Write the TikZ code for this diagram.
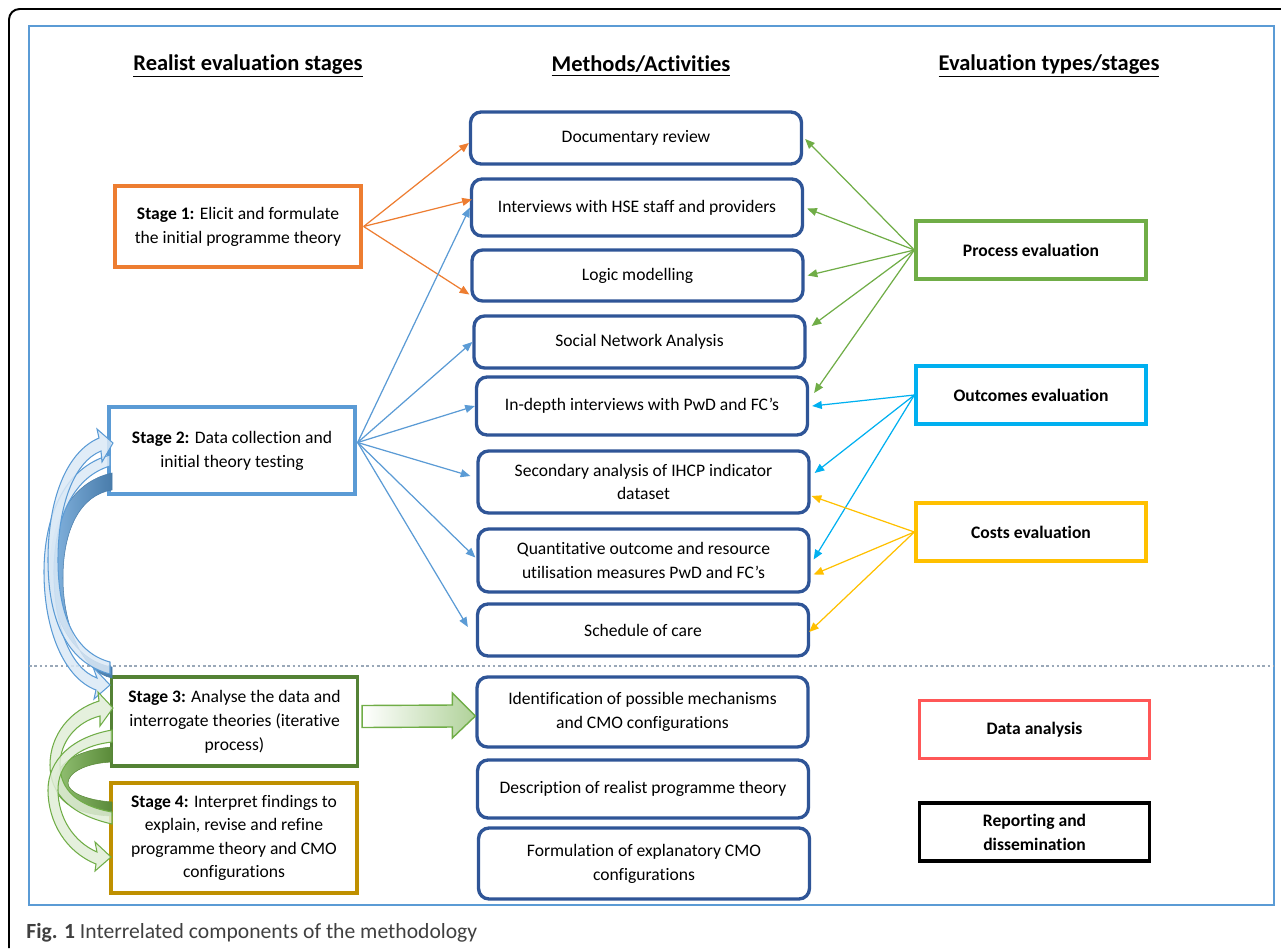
\documentclass[tikz,border=0pt]{standalone}
\usepackage{fontspec}
\setmainfont{Carlito}[Ligatures=NoCommon]
\usetikzlibrary{arrows.meta,calc}

\definecolor{stageone}{HTML}{ED7D31}
\definecolor{stagetwo}{HTML}{5B9BD5}
\definecolor{stagethree}{HTML}{548235}
\definecolor{stagefour}{HTML}{BF9000}
\definecolor{methodblue}{HTML}{2F5597}
\definecolor{procgreen}{HTML}{70AD47}
\definecolor{outcblue}{HTML}{00B0F0}
\definecolor{costyellow}{HTML}{FFC000}
\definecolor{datared}{HTML}{FF5757}
\definecolor{divider}{HTML}{9AA8B8}

\begin{document}
\begin{tikzpicture}[
  x=0.02cm, y=-0.02cm,
  font=\fontsize{10}{13.6}\selectfont,
  every node/.style={align=center},
  stage/.style={draw=#1,line width=1.9pt,minimum width=4.92cm,inner sep=0pt},
  method/.style={draw=methodblue,line width=1.9pt,rounded corners=6pt,minimum width=6.62cm,inner sep=0pt},
  evaltype/.style={draw=#1,line width=1.9pt,minimum width=4.6cm,minimum height=1.16cm,inner sep=0pt,
    font=\bfseries\fontsize{10}{13.6}\selectfont},
  heading/.style={font=\bfseries\fontsize{12.8}{15}\selectfont},
  to/.style={-{Triangle[length=5.5pt,width=4.5pt]},draw=#1,line width=0.7pt},
  curvelight/.style={fill=#1!22,draw=#1,line width=0.6pt,fill opacity=0.85},
  curvedark/.style={left color=#1!75,right color=#1!80!black,draw=#1!80!black,line width=0.3pt}]

  \useasboundingbox (0,0) rectangle (1281,948);

  % frames
  \draw[line width=1.1pt,rounded corners=6pt] (1281,9) -- (9,9) -- (9,948);
  \draw[stagetwo,line width=0.9pt] (29,26) rectangle (1274,905);
  \draw[divider,line width=0.6pt,dash pattern=on 1.5pt off 1.5pt] (29,666) -- (1274,666);

  % headings
  \node[heading] (h_stages) at (248,66) {\underline{Realist evaluation stages}};
  \node[heading] (h_methods) at (641,66) {\underline{Methods/Activities}};
  \node[heading] (h_types) at (1049,66) {\underline{Evaluation types/stages}};

  % realist evaluation stages
  \node[stage=stageone,minimum height=1.62cm] (stage1) at (238,226.5) {\textbf{Stage 1:} Elicit and formulate\\the initial programme theory};
  \node[stage=stagetwo,minimum height=1.74cm] (stage2) at (232,450.5) {\textbf{Stage 2:} Data collection and\\initial theory testing};
  \node[stage=stagethree,minimum height=1.78cm] (stage3) at (234.5,721.5) {\textbf{Stage 3:} Analyse the data and\\interrogate theories (iterative\\process)};
  \node[stage=stagefour,minimum height=2.2cm,font=\fontsize{10}{13.3}\selectfont] (stage4) at (234,838) {\textbf{Stage 4:} Interpret findings to\\explain, revise and refine\\programme theory and CMO\\configurations};

  % methods and activities
  \node[method,minimum height=1.04cm] (docreview) at (636,138) {Documentary review};
  \node[method,minimum height=1.14cm] (interviews) at (637,207.5) {Interviews with HSE staff and providers};
  \node[method,minimum height=1.02cm] (logic) at (637.5,275.5) {Logic modelling};
  \node[method,minimum height=1.04cm] (sna) at (639.5,342) {Social Network Analysis};
  \node[method,minimum height=1.16cm] (indepth) at (642,406) {In-depth interviews with PwD and FC’s};
  \node[method,minimum height=1.24cm] (secondary) at (643.5,482) {Secondary analysis of IHCP indicator\\dataset};
  \node[method,minimum height=1.26cm] (quant) at (643.5,560.5) {Quantitative outcome and resource\\utilisation measures PwD and FC’s};
  \node[method,minimum height=1.04cm] (schedule) at (643,630) {Schedule of care};
  \node[method,minimum height=1.4cm] (ident) at (642.5,712) {Identification of possible mechanisms\\and CMO configurations};
  \node[method,minimum height=1.16cm] (descr) at (643,789) {Description of realist programme theory};
  \node[method,minimum height=1.42cm] (formul) at (644,863.5) {Formulation of explanatory CMO\\configurations};

  % evaluation types
  \node[evaltype=procgreen] (process) at (1031,250) {Process evaluation};
  \node[evaltype=outcblue] (outcomes) at (1031,395) {Outcomes evaluation};
  \node[evaltype=costyellow] (costs) at (1031,532) {Costs evaluation};
  \node[evaltype=datared] (dataan) at (1034.5,729.5) {Data analysis};
  \node[evaltype=black] (reporting) at (1034.5,832) {Reporting and\\dissemination};

  % stage 1 links
  \coordinate (s1out) at ($(stage1.east)+(1,0)$);
  \draw[to=stageone] (s1out) -- ($(docreview.west)+(0,5)$);
  \draw[to=stageone] (s1out) -- ($(interviews.west)+(2,-8)$);
  \draw[to=stageone] (s1out) -- ($(logic.west)+(-1,19)$);

  % stage 2 links
  \coordinate (s2out) at ($(stage2.east)+(1,-8)$);
  \draw[to=stagetwo] (s2out) -- (interviews.west);
  \draw[to=stagetwo] (s2out) -- (sna.west);
  \draw[to=stagetwo] (s2out) -- (indepth.west);
  \draw[to=stagetwo] (s2out) -- ($(secondary.west)+(-6,-6)$);
  \draw[to=stagetwo] (s2out) -- ($(quant.west)+(-1,-3)$);
  \draw[to=stagetwo] (s2out) -- ($(schedule.west)+(-8,-3)$);

  % evaluation type links
  \draw[to=procgreen] (process.west) -- ($(docreview.east)+(2,1)$);
  \draw[to=procgreen] (process.west) -- ($(interviews.east)+(3,1)$);
  \draw[to=procgreen] (process.west) -- ($(logic.east)+(3,0)$);
  \draw[to=procgreen] (process.west) -- ($(sna.east)+(5,-16)$);
  \draw[to=procgreen] (process.west) -- ($(indepth.east)+(5,-13)$);
  \draw[to=outcblue] (outcomes.west) -- ($(indepth.east)+(3,0)$);
  \draw[to=outcblue] (outcomes.west) -- ($(secondary.east)+(4,-9)$);
  \draw[to=outcblue] (outcomes.west) -- ($(quant.east)+(3,-1)$);
  \draw[to=costyellow] (costs.west) -- ($(secondary.east)+(1,14)$);
  \draw[to=costyellow] (costs.west) -- ($(quant.east)+(3,14)$);
  \draw[to=costyellow] (costs.west) -- ($(schedule.east)+(-1,2)$);

  % block arrow from stage 3
  \coordinate (bstart) at ($(stage3.east)+(3,-5)$);
  \coordinate (btip) at ($(ident.west)+(0,4)$);
  \shade[left color=white,right color=procgreen!55,draw=procgreen,line width=0.8pt]
    ($(bstart)+(0,-11)$) -- ($(btip)+(-23,-11)$) -- ($(btip)+(-23,-23)$) -- (btip)
    -- ($(btip)+(-23,22)$) -- ($(btip)+(-23,11)$) -- ($(bstart)+(0,11)$) -- cycle;

  % curved arrows between stage 2 and stage 3
  \path[curvedark=stagetwo] (112,473) .. controls (70,482) and (50,525) .. (50,570)
    .. controls (50,615) and (72,660) .. (112,667) -- (112,678)
    .. controls (82,672) and (63,625) .. (63,578) .. controls (63,530) and (80,495) .. (112,490) -- cycle;
  \path[curvelight=stagetwo] (110,455) .. controls (62,468) and (44,520) .. (44,572)
    .. controls (44,630) and (64,678) .. (96,690) -- (94,699) -- (110,685) -- (93,667) -- (97,678)
    .. controls (70,668) and (54,625) .. (54,572) .. controls (54,525) and (70,478) .. (110,466) -- cycle;
  \path[curvelight=stagetwo] (110,674) .. controls (64,662) and (48,615) .. (48,560)
    .. controls (48,500) and (66,452) .. (99,438) -- (97,429) -- (113,443) -- (102,462) -- (101,451)
    .. controls (74,462) and (58,505) .. (58,560) .. controls (58,610) and (72,652) .. (110,662) -- cycle;

  % curved arrows between stage 3 and stage 4
  \path[curvedark=procgreen] (112,747) .. controls (75,750) and (55,765) .. (55,783)
    .. controls (55,800) and (75,815) .. (112,816) -- (112,802)
    .. controls (85,800) and (68,792) .. (68,783) .. controls (68,773) and (85,763) .. (112,762) -- cycle;
  \path[curvelight=procgreen] (112,824) .. controls (72,815) and (50,795) .. (50,765)
    .. controls (50,735) and (70,710) .. (99,701) -- (98,692) -- (113,708) -- (100,726) -- (100,716)
    .. controls (76,722) and (60,742) .. (60,765) .. controls (60,790) and (78,806) .. (112,812) -- cycle;
  \path[curvelight=procgreen] (112,730) .. controls (72,737) and (48,760) .. (48,790)
    .. controls (48,822) and (66,852) .. (96,864) -- (95,871) -- (111,857) -- (95,842) -- (97,852)
    .. controls (74,842) and (58,818) .. (58,790) .. controls (58,765) and (76,746) .. (112,742) -- cycle;

  % caption
  \node[anchor=west,inner sep=0pt,text=black!75,font=\fontsize{12.3}{15}\selectfont] (caption) at (26,933)
    {\textbf{Fig. 1} Interrelated components of the methodology};
\end{tikzpicture}
\end{document}
